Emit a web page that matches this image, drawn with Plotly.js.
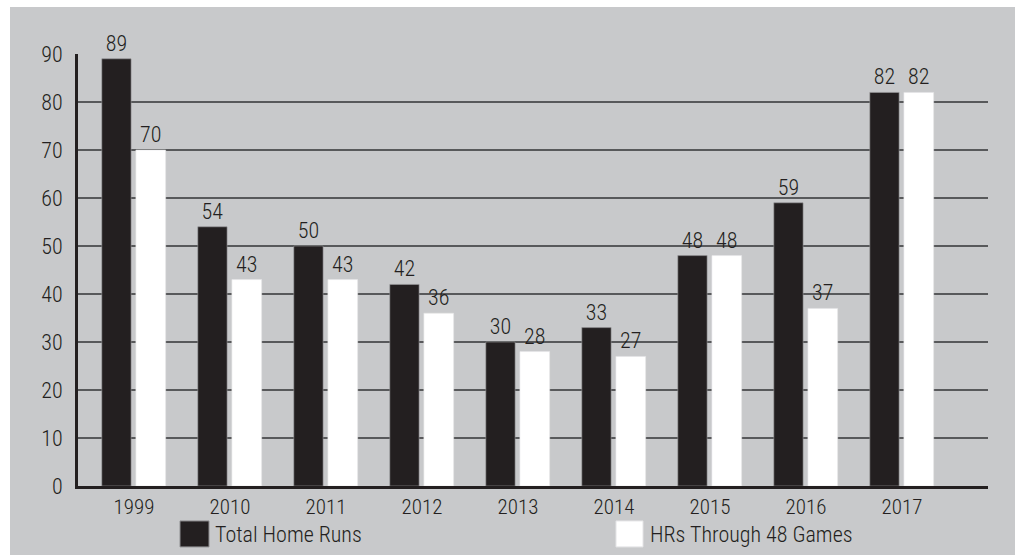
<!DOCTYPE html>
<html>
<head>
<meta charset="utf-8">
<script src="https://cdn.plot.ly/plotly-3.0.1.min.js"></script>
<style>
  html, body { margin: 0; padding: 0; background: #ffffff; width: 1015px; height: 555px; overflow: hidden; }
  #chart { position: absolute; left: 10px; top: 7px; width: 1005px; height: 548px; }
  text, tspan { font-stretch: 82% !important; font-weight: 300 !important; }
</style>
</head>
<body>
<div id="chart"></div>
<script>
// ---- data ----
const years = ["1999", "2010", "2011", "2012", "2013", "2014", "2015", "2016", "2017"];
const totalHomeRuns = [89, 54, 50, 42, 30, 33, 48, 59, 82];
const hrsThrough48 = [70, 43, 43, 36, 28, 27, 48, 37, 82];
const seriesNames = ["Total Home Runs", "HRs Through 48 Games"];
const yTicks = [0, 10, 20, 30, 40, 50, 60, 70, 80, 90];

// ---- style ----
const INK = "#231f20";
const GRAY = "#c8c9cb";
const FONT = "Roboto, 'Open Sans', sans-serif";

const xIdx = years.map((_, i) => i);

// plot area in page pixels (for legend placement)
const PX0 = 78, PX1 = 988, PY0 = 486, PY1 = 53.5;
const toPX = x => (x - PX0) / (PX1 - PX0);
const toPY = y => (PY0 - y) / (PY0 - PY1);

const traces = [
  {
    type: "bar", x: xIdx, y: totalHomeRuns, name: seriesNames[0],
    width: 0.305, offset: -0.335,
    marker: { color: INK, line: { color: "#9a9a9c", width: 0.6 } },
    text: totalHomeRuns.map(String), textposition: "outside",
    textfont: { family: FONT, size: 22, color: INK, weight: 300 },
    constraintext: "none", cliponaxis: false, hoverinfo: "skip", showlegend: false
  },
  {
    type: "bar", x: xIdx, y: hrsThrough48, name: seriesNames[1],
    width: 0.31, offset: 0.02,
    marker: { color: "#ffffff", line: { color: "#e4e4e6", width: 0.6 } },
    text: hrsThrough48.map(String), textposition: "outside",
    textfont: { family: FONT, size: 22, color: INK, weight: 300 },
    constraintext: "none", cliponaxis: false, hoverinfo: "skip", showlegend: false
  }
];

const shapes = [
  { type: "rect", xref: "paper", yref: "paper",
    x0: toPX(180), x1: toPX(209), y0: toPY(547), y1: toPY(521),
    fillcolor: INK, line: { color: "#8e8e90", width: 1 } },
  { type: "rect", xref: "paper", yref: "paper",
    x0: toPX(616), x1: toPX(643), y0: toPY(547), y1: toPY(521),
    fillcolor: "#ffffff", line: { color: "#e4e4e6", width: 1 } }
];

const annotations = [
  { xref: "paper", yref: "paper", x: toPX(213), y: toPY(535), xanchor: "left", yanchor: "middle",
    text: seriesNames[0], showarrow: false, font: { family: FONT, size: 22, color: INK, weight: 300 } },
  { xref: "paper", yref: "paper", x: toPX(648), y: toPY(535), xanchor: "left", yanchor: "middle",
    text: seriesNames[1], showarrow: false, font: { family: FONT, size: 22, color: INK, weight: 300 } }
];

const layout = {
  width: 1005, height: 548,
  margin: { l: 68, r: 27, t: 46.5, b: 69, pad: 0 },
  paper_bgcolor: GRAY, plot_bgcolor: GRAY,
  barmode: "overlay",
  showlegend: false,
  font: { family: FONT, size: 22, color: INK, weight: 300 },
  xaxis: {
    range: [-0.583, 8.896], fixedrange: true,
    tickmode: "array", tickvals: xIdx, ticktext: years,
    showgrid: false, zeroline: false,
    showline: true, linecolor: INK, linewidth: 3,
    ticks: "", ticklabelstandoff: 0,
    tickfont: { family: FONT, size: 21, color: INK, weight: 300 }
  },
  yaxis: {
    range: [0, 90], fixedrange: true,
    tickmode: "array", tickvals: yTicks, ticktext: yTicks.map(String),
    showgrid: true, gridcolor: "#58595b", gridwidth: 1.6,
    zeroline: false,
    showline: true, linecolor: INK, linewidth: 3,
    ticks: "", ticklabelstandoff: 8,
    tickfont: { family: FONT, size: 22, color: INK, weight: 300 }
  },
  shapes: shapes,
  annotations: annotations
};

Plotly.newPlot("chart", traces, layout, { staticPlot: true, displayModeBar: false });
</script>
</body>
</html>
